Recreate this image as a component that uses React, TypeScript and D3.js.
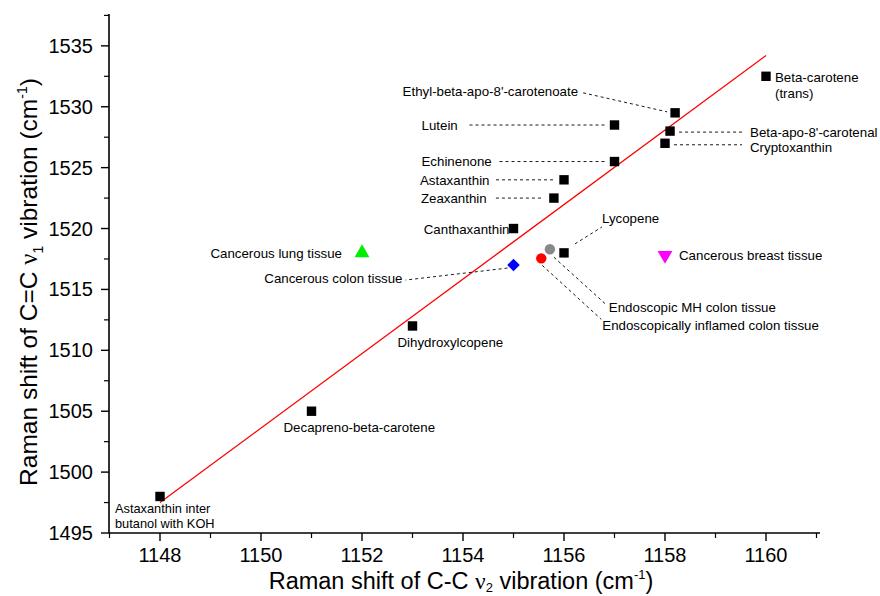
import React from "react";
import * as d3 from "d3";

// ---- data ----
const carotenoidNames = [
  "Beta-carotene", "Ethyl-beta-apo-8'-carotenoate", "Lutein", "Beta-apo-8'-carotenal",
  "Cryptoxanthin", "Echinenone", "Astaxanthin", "Zeaxanthin", "Canthaxanthin",
  "Lycopene", "Dihydroxylcopene", "Decapreno-beta-carotene", "Astaxanthin inter",
];
const carotenoidV2 = [1160, 1158.2, 1157, 1158.1, 1158, 1157, 1156, 1155.8, 1155, 1156, 1153, 1151, 1148];
const carotenoidV1 = [1532.5, 1529.5, 1528.5, 1528, 1527, 1525.5, 1524, 1522.5, 1520, 1518, 1512, 1505, 1498];

const tissueNames = [
  "Cancerous lung tissue", "Cancerous colon tissue", "Cancerous breast tissue",
  "Endoscopic MH colon tissue", "Endoscopically inflamed colon tissue",
];
const tissueV2 = [1152, 1155, 1158, 1155.72, 1155.55];
const tissueV1 = [1518, 1517, 1517.8, 1518.3, 1517.55];

const fitV2 = [1148, 1160];
const fitV1 = [1497.5, 1534.2];

const xTicks = [1148, 1150, 1152, 1154, 1156, 1158, 1160];
const yTicks = [1495, 1500, 1505, 1510, 1515, 1520, 1525, 1530, 1535];

// ---- layout (pixel offsets from each point) ----
type Lay = { dx: number; dy: number; anchor: string; line2?: string; lead?: number[] };
const carotenoidLayout: Lay[] = [
  { dx: 9, dy: 5.5, anchor: "start", line2: "(trans)" },
  { dx: -97, dy: -16.5, anchor: "end", lead: [-92, -20, -8, -1] },
  { dx: -193, dy: 4.5, anchor: "start", lead: [-145, 0, -9, 0] },
  { dx: 80, dy: 5.5, anchor: "start", lead: [9, 1, 74, 1] },
  { dx: 85, dy: 9, anchor: "start", lead: [9, 1.5, 77, 1.5] },
  { dx: -193, dy: 4, anchor: "start", lead: [-115, 0, -9, 0] },
  { dx: -144, dy: 5.5, anchor: "start", lead: [-68, 0, -11, 0] },
  { dx: -133, dy: 4.5, anchor: "start", lead: [-58, 0, -13, 0] },
  { dx: -4, dy: 5, anchor: "end" },
  { dx: 38, dy: -29.5, anchor: "start", lead: [11, -9, 38, -26] },
  { dx: -15, dy: 21, anchor: "start" },
  { dx: -28, dy: 20.5, anchor: "start" },
  { dx: -45, dy: 16.5, anchor: "start", line2: "butanol with KOH" },
];
const tissueLayout: Lay[] = [
  { dx: -20, dy: 5.5, anchor: "end" },
  { dx: -111, dy: 18, anchor: "end", lead: [-6, 3, -108, 15] },
  { dx: 14, dy: 5, anchor: "start" },
  { dx: 59, dy: 62.5, anchor: "start", lead: [4, 8, 57, 56] },
  { dx: 61, dy: 72, anchor: "start", lead: [1, 7, 60, 61] },
];

const FONT = "'Liberation Sans', Arial, sans-serif";

export default function App() {
  const W = 880, H = 596;
  const x = d3.scaleLinear().domain([1147, 1161]).range([109.5, 816.5]);
  const y = d3.scaleLinear().domain([1495, 1537.5]).range([533, 15.4]);
  const x0 = 109, y0 = 533;
  const xMinor = d3.range(1147, 1161.01, 1).filter((v) => !xTicks.includes(v));
  const yMinor = d3.range(1497.5, 1537.6, 5);

  const triUp = d3.symbol().type(d3.symbolTriangle).size(95)()!;
  const line = d3.line<number>().x((_, i) => x(fitV2[i])).y((d) => y(d));

  const tissueColors = ["#00ee00", "#0000ff", "#ff00ff", "#888888", "#ff0000"];

  const renderLabel = (name: string, px: number, py: number, l: Lay, key: string, fs = 13.3, gap = 16) => (
    <g key={key}>
      {l.lead && (
        <line x1={px + l.lead[0]} y1={py + l.lead[1]} x2={px + l.lead[2]} y2={py + l.lead[3]}
          stroke="#000" strokeWidth={0.9} strokeDasharray="3,3" />
      )}
      <text x={px + l.dx} y={py + l.dy} textAnchor={l.anchor} fontSize={fs} fontFamily={FONT} fill="#000">
        {name}
      </text>
      {l.line2 && (
        <text x={px + l.dx} y={py + l.dy + gap} textAnchor={l.anchor} fontSize={fs} fontFamily={FONT} fill="#000">
          {l.line2}
        </text>
      )}
    </g>
  );

  return (
    <svg width={W} height={H} style={{ position: "absolute", left: 0, top: 0, background: "#fff" }}>
      <rect width={W} height={H} fill="#fff" />
      {/* fit line */}
      <path d={line(fitV1)!} stroke="#ff0000" strokeWidth={1.3} fill="none" />

      {/* axes */}
      <line x1={x0} y1={14} x2={x0} y2={y0} stroke="#000" strokeWidth={1.6} />
      <line x1={x0} y1={y0} x2={820} y2={y0} stroke="#000" strokeWidth={1.6} />
      {xTicks.map((t) => (
        <g key={"xt" + t}>
          <line x1={x(t)} x2={x(t)} y1={y0} y2={y0 + 8} stroke="#000" strokeWidth={1.4} />
          <text x={x(t)} y={y0 + 28.5} textAnchor="middle" fontSize={20} fontFamily={FONT}>{t}</text>
        </g>
      ))}
      {xMinor.map((t) => (
        <line key={"xm" + t} x1={x(t)} x2={x(t)} y1={y0} y2={y0 + 5} stroke="#000" strokeWidth={1.2} />
      ))}
      {yTicks.map((t) => (
        <g key={"yt" + t}>
          <line x1={x0 - 8} x2={x0} y1={y(t)} y2={y(t)} stroke="#000" strokeWidth={1.4} />
          <text x={x0 - 16} y={y(t) + 7} textAnchor="end" fontSize={20} fontFamily={FONT}>{t}</text>
        </g>
      ))}
      {yMinor.map((t) => (
        <line key={"ym" + t} x1={x0 - 5} x2={x0} y1={y(t)} y2={y(t)} stroke="#000" strokeWidth={1.2} />
      ))}

      {/* axis titles */}
      <text x={461} y={588.5} textAnchor="middle" fontSize={23.5} fontFamily={FONT}>
        Raman shift of C-C <tspan fontFamily="'Liberation Serif', serif">ν</tspan>
        <tspan fontSize={13} dy={3.5}>2</tspan>
        <tspan dy={-3.5}> vibration (cm</tspan>
        <tspan fontSize={13} dy={-10}>-1</tspan>
        <tspan dy={10}>)</tspan>
      </text>
      <text transform="translate(37,282) rotate(-90)" textAnchor="middle" fontSize={24.5} fontFamily={FONT}>
        Raman shift of C=C <tspan fontFamily="'Liberation Serif', serif">ν</tspan>
        <tspan fontSize={14} dy={6}>1</tspan>
        <tspan dy={-6}> vibration (cm</tspan>
        <tspan fontSize={14} dy={-10}>-1</tspan>
        <tspan dy={10}>)</tspan>
      </text>

      {/* carotenoid squares */}
      {carotenoidNames.map((n, i) => {
        const px = x(carotenoidV2[i]), py = y(carotenoidV1[i]);
        return (
          <g key={"c" + i}>
            <rect x={px - 4.7} y={py - 4.7} width={9.4} height={9.4} fill="#000" />
            {renderLabel(n, px, py, carotenoidLayout[i], "cl" + i, i === 12 ? 12.8 : 13.3, i === 12 ? 15 : 16)}
          </g>
        );
      })}

      {/* tissues */}
      {tissueNames.map((n, i) => {
        const px = x(tissueV2[i]), py = y(tissueV1[i]);
        let mark;
        if (i === 0) mark = <path d={triUp} transform={`translate(${px},${py})`} fill={tissueColors[i]} />;
        else if (i === 1)
          mark = <rect x={-4.4} y={-4.4} width={8.8} height={8.8} transform={`translate(${px},${py}) rotate(45)`} fill={tissueColors[i]} />;
        else if (i === 2) mark = <path d={triUp} transform={`translate(${px},${py}) rotate(180)`} fill={tissueColors[i]} />;
        else mark = <circle cx={px} cy={py} r={5.2} fill={tissueColors[i]} />;
        return (
          <g key={"t" + i}>
            {renderLabel(n, px, py, tissueLayout[i], "tl" + i)}
            {mark}
          </g>
        );
      })}
    </svg>
  );
}
